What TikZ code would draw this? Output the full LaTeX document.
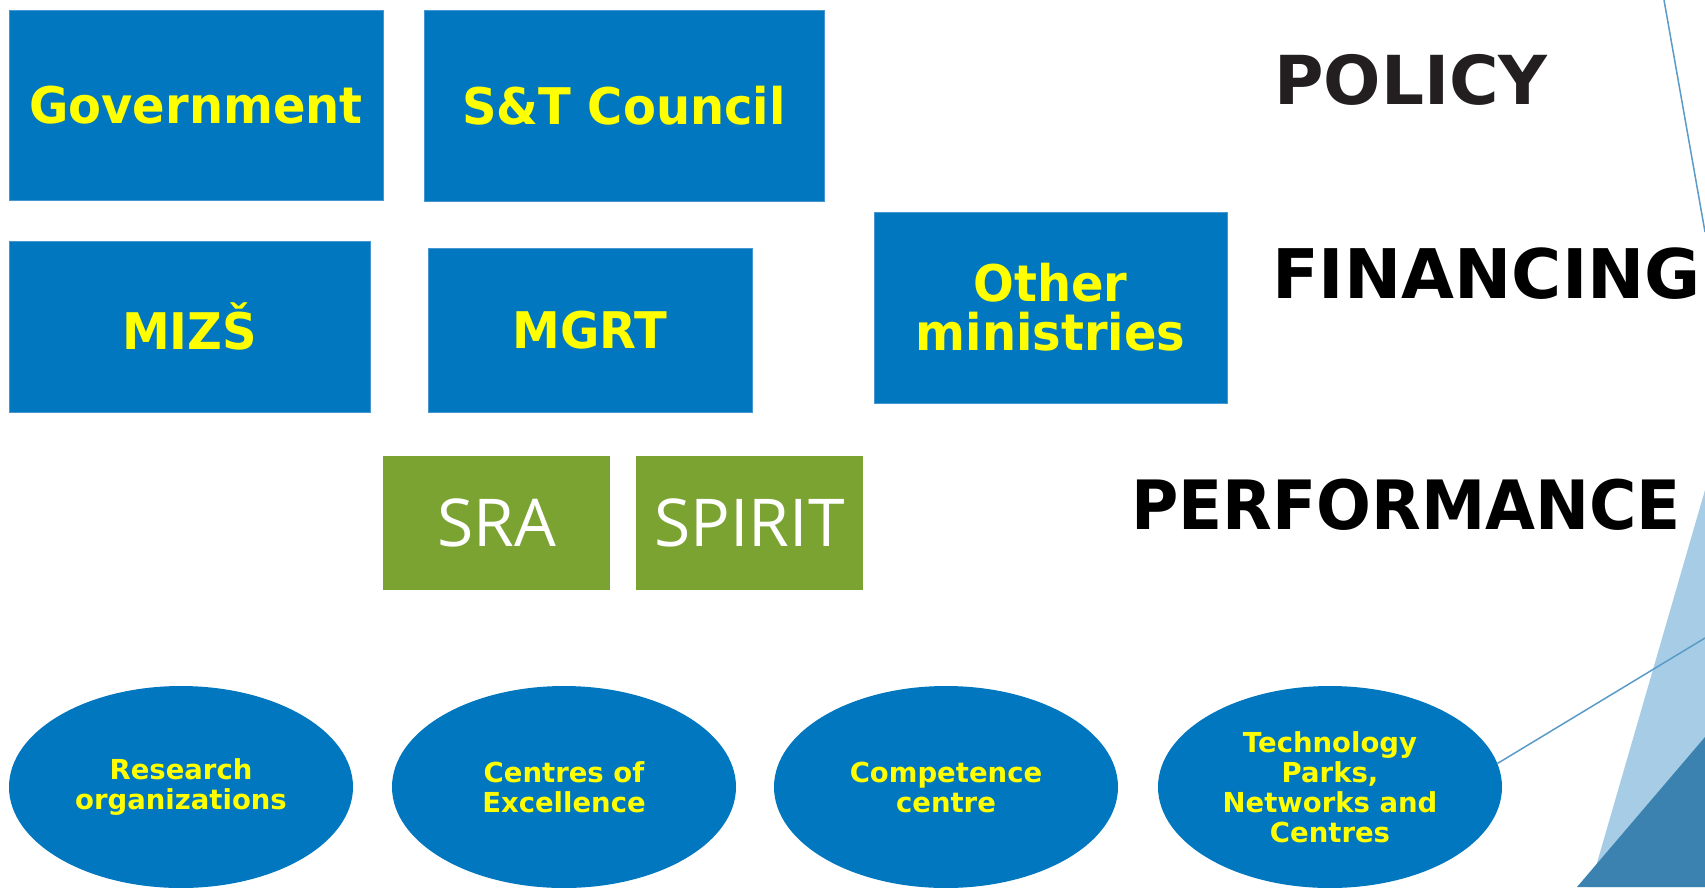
\documentclass[tikz,border=0pt]{standalone}
\usepackage{fontspec}
\usetikzlibrary{shapes.geometric}
\newfontfamily\cbw{DejaVu Sans}
\newfontfamily\cbn{DejaVu Sans}[FakeStretch=0.95]
\newfontfamily\os{Open Sans}
\definecolor{boxblue}{RGB}{0,119,190}
\definecolor{boxedge}{RGB}{70,150,210}
\definecolor{ylw}{RGB}{255,255,0}
\definecolor{grn}{RGB}{122,163,50}
\definecolor{lightdeco}{RGB}{167,205,230}
\definecolor{darkdeco}{RGB}{59,130,176}
\definecolor{decoline}{RGB}{90,155,200}
\definecolor{ttl}{RGB}{35,31,32}
\begin{document}
\begin{tikzpicture}[x=1pt,y=-1pt,
  bluebox/.style={rectangle, fill=boxblue, draw=boxedge, line width=1pt, inner sep=0pt,
    text=ylw, font=\cbn\bfseries\fontsize{50.5}{49}\selectfont, align=center},
  greenbox/.style={rectangle, fill=grn, inner sep=0pt, minimum width=227, minimum height=134,
    text=white, font=\os\fontsize{66}{66}\selectfont},
  oval/.style={ellipse, fill=boxblue, inner sep=0pt, minimum width=344, minimum height=202,
    text=ylw, font=\cbw\bfseries\fontsize{27.5}{30}\selectfont, align=center},
  title/.style={anchor=west, inner sep=0pt, text=black}]
\useasboundingbox (0,0) rectangle (1705,887);
\fill[white] (0,0) rectangle (1705,887);
% decoration
\fill[lightdeco] (1705,490) -- (1705,887) -- (1590,887) -- cycle;
\fill[darkdeco] (1705,737) -- (1705,887) -- (1577,887) -- cycle;
\coordinate (ltop) at (1664,0);
\coordinate (lright) at (1705,232);
\coordinate (lend) at (1705,638);
\draw[decoline, line width=1.5pt] (ltop) -- (lright);
% boxes
\node[bluebox, minimum width=374, minimum height=190] (gov) at (196,105) {Government};
\node[bluebox, minimum width=400, minimum height=191] (stc) at (624,105.5) {S\&T Council};
\node[bluebox, minimum width=361, minimum height=171] (mizs) at (189.5,326.5) {MIZŠ};
\node[bluebox, minimum width=324, minimum height=164] (mgrt) at (590,330) {MGRT};
\node[bluebox, minimum width=353, minimum height=191] (oth) at (1050.5,307.5) {Other\\ministries};
\node[greenbox] (sra) at (496.5,523) {SRA};
\node[greenbox] (spirit) at (749.5,523) {SPIRIT};
% ellipses
\node[oval] (e1) at (181,787) {Research\\organizations};
\node[oval] (e2) at (564,787) {Centres of\\Excellence};
\node[oval] (e3) at (946,787) {Competence\\centre};
\node[oval] (e4) at (1330,787) {Technology\\Parks,\\Networks and\\Centres};
\draw[decoline, line width=1.5pt] (e4.8) -- (lend);
% titles
\node[title, text=ttl, font=\cbw\bfseries\fontsize{67.5}{67.5}\selectfont] (pol) at (1274,80) {POLICY};
\node[title, font=\cbw\bfseries\fontsize{68.4}{68.4}\selectfont] (fin) at (1272,274) {FINANCING};
\node[title, font=\cbn\bfseries\fontsize{68}{68}\selectfont] (perf) at (1131,505) {PERFORMANCE};
\end{tikzpicture}
\end{document}
